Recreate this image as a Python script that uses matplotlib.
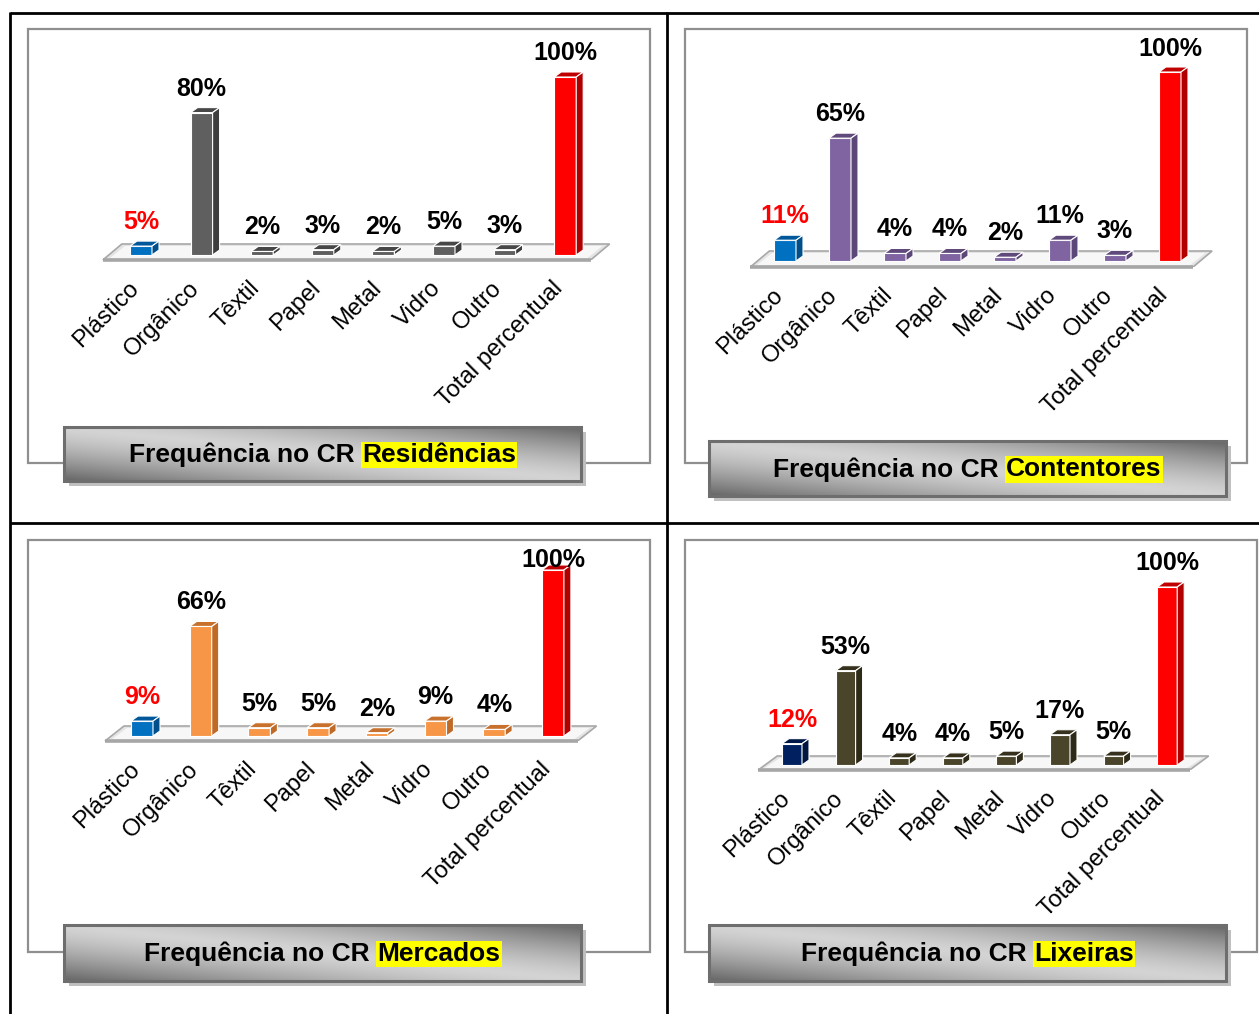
import numpy as np
import matplotlib
matplotlib.use("Agg")
import matplotlib.pyplot as plt
from matplotlib.patches import Polygon, Rectangle
import matplotlib.transforms as mtransforms

plt.rcParams['font.family'] = ['Liberation Sans', 'DejaVu Sans']

W, H = 1259, 1014
DPI = 100

# ---- data -------------------------------------------------------------
categories = ['Plástico', 'Orgânico', 'Têxtil', 'Papel', 'Metal', 'Vidro',
              'Outro', 'Total percentual']

residencias = [5, 80, 2, 3, 2, 5, 3, 100]
contentores = [11, 65, 4, 4, 2, 11, 3, 100]
mercados = [9, 66, 5, 5, 2, 9, 4, 100]
lixeiras = [12, 53, 4, 4, 5, 17, 5, 100]

title_prefix = 'Frequência no CR '
panel_names = ['Residências', 'Contentores', 'Mercados', 'Lixeiras']
panel_values = [residencias, contentores, mercados, lixeiras]

# ---- colours (front, top, side) --------------------------------------
GRAY = ('#5f5f5f', '#474747', '#3d3d3d')
BLUE = ('#0070c0', '#00589a', '#004f8a')
PURPLE = ('#8064a2', '#604a7b', '#5c4878')
ORANGE = ('#f79646', '#c8712c', '#c06a28')
OLIVE = ('#4a452a', '#35311d', '#2e2a18')
NAVY = ('#002060', '#001848', '#001540')
RED = ('#ff0000', '#c00000', '#b00000')

panel_colors = [
    [BLUE] + [GRAY] * 6 + [RED],
    [BLUE] + [PURPLE] * 6 + [RED],
    [BLUE] + [ORANGE] * 6 + [RED],
    [NAVY] + [OLIVE] * 6 + [RED],
]

# ---- layout in pixels --------------------------------------------------
# c0: centre of first bar, step: bar spacing, base: bar foot, full: height of 100 %
# ff / fb: floor front / back edge, bw: bar width, frame, title box
layouts = [
    dict(c0=141, step=60.6, base=255, full=178, ff=260, fb=244, bw=22,
         frame=(28, 29, 650, 463), box=(64, 427, 581, 481)),
    dict(c0=785, step=55.0, base=261, full=189, ff=267, fb=251, bw=22,
         frame=(685, 29, 1247, 463), box=(709, 441, 1226, 496)),
    dict(c0=142, step=58.7, base=736, full=166, ff=741, fb=726, bw=22,
         frame=(28, 540, 650, 952), box=(64, 925, 581, 981)),
    dict(c0=792, step=53.6, base=765, full=178, ff=770, fb=756, bw=20,
         frame=(685, 540, 1257, 952), box=(709, 925, 1226, 981)),
]

DEPTH_X, DEPTH_Y = 7, 5      # bar depth in px
FLOOR_DX = 19                # floor depth in px

fig = plt.figure(figsize=(W / DPI, H / DPI), dpi=DPI)
fig.patch.set_facecolor('white')

# Overlay axes in pixel coordinates for table rules, frames and title boxes
bg = fig.add_axes([0, 0, 1, 1])
bg.set_xlim(0, W)
bg.set_ylim(H, 0)
bg.axis('off')

# table rules
rule = dict(color='black', lw=2.0, solid_capstyle='butt')
bg.plot([10, W], [13, 13], **rule)
bg.plot([10, 10], [12, H], **rule)
bg.plot([667, 667], [12, H], **rule)
bg.plot([10, W], [523, 523], **rule)


def gradient_box(x0, y0, x1, y1):
    w, h = int(x1 - x0), int(y1 - y0)
    cols = np.linspace(0, 1, w)[None, :]
    rows = np.linspace(1, 0, h)[:, None]
    t = (cols + rows) / 2.0
    dark, light = 0.40, 0.83
    val = light - (light - dark) * np.abs(2 * t - 1) ** 1.4
    img = np.dstack([val, val, val])
    bg.add_patch(Rectangle((x0 + 5, y0 + 5), x1 - x0, y1 - y0,
                           facecolor='#c0c0c0', edgecolor='none', zorder=4))
    bg.imshow(img, extent=(x0, x1, y1, y0), aspect='auto', zorder=5,
              interpolation='bilinear')
    bg.add_patch(Rectangle((x0, y0), x1 - x0, y1 - y0, facecolor='none',
                           edgecolor='#6e6e6e', lw=2.2, zorder=6))


renderer = fig.canvas.get_renderer()

for name, vals, cols, L in zip(panel_names, panel_values, panel_colors, layouts):
    fx0, fy0, fx1, fy1 = L['frame']
    bg.add_patch(Rectangle((fx0, fy0), fx1 - fx0, fy1 - fy0, facecolor='none',
                           edgecolor='#8f8f8f', lw=1.6, zorder=2))

    # title box with highlighted panel name
    bx0, by0, bx1, by1 = L['box']
    gradient_box(bx0, by0, bx1, by1)
    cy = (by0 + by1) / 2 + 1
    t1 = bg.text(0, cy, title_prefix, fontsize=19, fontweight='bold',
                 ha='left', va='center', zorder=8)
    t2 = bg.text(0, cy, name, fontsize=19, fontweight='bold', ha='left',
                 va='center', zorder=8,
                 bbox=dict(boxstyle='square,pad=0.05', facecolor='#ffff00',
                           edgecolor='none'))
    w1 = t1.get_window_extent(renderer).width
    w2 = t2.get_window_extent(renderer).width
    start = (bx0 + bx1) / 2 - (w1 + w2) / 2
    t1.set_x(start)
    t2.set_x(start + w1)

    # bar axes: x = category index, y = percentage
    c0, step, base, full = L['c0'], L['step'], L['base'], L['full']
    ff, fb, bw = L['ff'], L['fb'], L['bw']
    ux = 1.0 / step
    uy = 100.0 / full
    left_px = c0 - step
    ax = fig.add_axes([left_px / W, 1 - ff / H, 9 * step / W, (ff - fy0) / H])
    ax.set_xlim(-1, 8)
    ax.set_ylim((base - ff) * uy, (base - fy0) * uy)
    ax.set_facecolor('none')
    for s in ax.spines.values():
        s.set_visible(False)
    ax.set_yticks([])

    # floor
    yf = (base - ff) * uy
    yb = (base - fb) * uy
    xl, xr = -0.63, 7.42
    fdx = FLOOR_DX * ux
    ax.add_patch(Polygon([(xl, yf), (xr, yf), (xr + fdx, yb), (xl + fdx, yb)],
                         closed=True, facecolor='#e4e4e4', edgecolor='#a8a8a8',
                         lw=1.2, zorder=1))
    ax.add_patch(Polygon([(xl + 0.12, yf + 2 * uy), (xr - 0.05, yf + 2 * uy),
                          (xr + fdx - 0.12, yb - 2 * uy), (xl + fdx + 0.05, yb - 2 * uy)],
                         closed=True, facecolor='#f7f7f7', edgecolor='none',
                         zorder=1))
    ax.plot([xl, xr], [yf, yf], color='#a6a6a6', lw=2.6, zorder=1,
            solid_capstyle='butt', clip_on=False)

    # 3-D bars
    x = np.arange(len(categories))
    hw = bw / 2 * ux
    dx, dy = DEPTH_X * ux, DEPTH_Y * uy
    fronts = [c[0] for c in cols]
    ax.bar(x, vals, width=bw * ux, color=fronts, edgecolor='white', lw=0.8,
           zorder=3)
    for i, v in enumerate(vals):
        _, top_c, side_c = cols[i]
        ax.add_patch(Polygon([(i - hw, v), (i + hw, v), (i + hw + dx, v + dy),
                              (i - hw + dx, v + dy)], closed=True,
                             facecolor=top_c, edgecolor='white', lw=0.8, zorder=3))
        ax.add_patch(Polygon([(i + hw, 0), (i + hw + dx, dy), (i + hw + dx, v + dy),
                              (i + hw, v)], closed=True, facecolor=side_c,
                             edgecolor='white', lw=0.8, zorder=3))
        label_y = min(v + 17 * uy, (base - (fy0 + 27)) * uy)
        ax.text(i, label_y, f'{v}%', ha='center', va='baseline', fontsize=18,
                fontweight='bold', color='#ff0000' if i == 0 else 'black',
                zorder=4)

    # rotated category labels
    ax.set_xticks(x)
    ax.set_xticklabels(categories, rotation=45, ha='right', va='center',
                       rotation_mode='anchor', fontsize=17)
    ax.tick_params(axis='x', length=0, pad=18)
    shift = mtransforms.ScaledTranslation(-6 / DPI, 0, fig.dpi_scale_trans)
    for lab in ax.get_xticklabels():
        lab.set_transform(lab.get_transform() + shift)

fig.savefig('out.png', dpi=DPI, facecolor='white')
